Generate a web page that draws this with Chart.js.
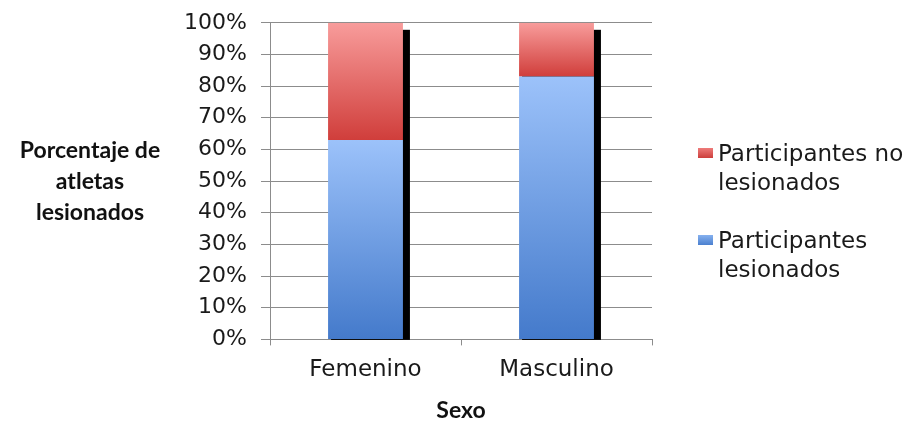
<!DOCTYPE html>
<html>
<head>
<meta charset="utf-8">
<script src="https://cdn.jsdelivr.net/npm/chart.js@4"></script>
<style>
  html, body { margin: 0; padding: 0; background: #ffffff; }
  #wrap { width: 911px; height: 422px; position: relative; }
</style>
</head>
<body>
<div id="wrap"><canvas id="c" width="911" height="422"></canvas></div>
<script>
// Categories and stacked percentages
const categories = ['Femenino', 'Masculino'];
const lesionados = [63, 83];
const noLesionados = [37, 17];
const seriesNames = ['Participantes lesionados', 'Participantes no lesionados'];
// Legend rows, top to bottom, each split over two lines
const legendLines = [['Participantes no', 'lesionados'], ['Participantes', 'lesionados']];
const yTitleLines = ['Porcentaje de', 'atletas', 'lesionados'];
const xTitle = 'Sexo';
const yTicks = [0, 10, 20, 30, 40, 50, 60, 70, 80, 90, 100];

// Vertical gradient across one stacked segment
function segmentGradient(ctx, top, bottom) {
  const chart = ctx.chart;
  if (!chart.chartArea) return top;
  const y = chart.scales.y;
  const i = ctx.dataIndex;
  let lo = 0;
  for (let d = 0; d < ctx.datasetIndex; d++) lo += chart.data.datasets[d].data[i];
  const hi = lo + chart.data.datasets[ctx.datasetIndex].data[i];
  const py0 = y.getPixelForValue(hi);
  const py1 = y.getPixelForValue(lo);
  const g = chart.ctx.createLinearGradient(0, py0, 0, py1);
  g.addColorStop(0, top);
  g.addColorStop(1, bottom);
  return g;
}

// Dark drop shadow on the right of each stacked column
const columnShadow = {
  id: 'columnShadow',
  beforeDatasetsDraw(chart) {
    const ctx = chart.ctx;
    const bottomMeta = chart.getDatasetMeta(0);
    const topMeta = chart.getDatasetMeta(chart.data.datasets.length - 1);
    ctx.save();
    ctx.fillStyle = '#000000';
    topMeta.data.forEach((el, i) => {
      const base = bottomMeta.data[i].base;
      const right = el.x + el.width / 2;
      const left = el.x - el.width / 2;
      ctx.fillRect(left + 3, el.y + 7, right - left + 4, base - el.y - 6);
    });
    ctx.restore();
  }
};

// Horizontal, multi-line title beside the value axis
const sideTitle = {
  id: 'sideTitle',
  afterDraw(chart) {
    const ctx = chart.ctx;
    const a = chart.chartArea;
    const cy = (a.top + a.bottom) / 2;
    ctx.save();
    ctx.font = 'bold 23px Lato';
    ctx.fillStyle = '#111111';
    ctx.textAlign = 'center';
    ctx.textBaseline = 'middle';
    const lh = 31;
    yTitleLines.forEach((t, k) => {
      ctx.fillText(t, 90, cy + (k - (yTitleLines.length - 1) / 2) * lh);
    });
    ctx.restore();
  }
};

// Legend on the right with two-line entries
const legendColors = [['#ee7b7a', '#cc3f3c'], ['#86b1ef', '#4b80cf']];
const sideLegend = {
  id: 'sideLegend',
  afterDraw(chart) {
    const ctx = chart.ctx;
    const x0 = chart.chartArea.right + 46;
    const cy = chart.height / 2;
    const lineH = 29;
    const itemH = 87;
    ctx.save();
    ctx.font = '23px "DejaVu Sans"';
    ctx.fillStyle = '#1a1a1a';
    ctx.textAlign = 'left';
    ctx.textBaseline = 'alphabetic';
    legendLines.forEach((lines, k) => {
      const base = cy - 50 + k * itemH;
      const g = ctx.createLinearGradient(0, base - 13, 0, base - 3);
      g.addColorStop(0, legendColors[k][0]);
      g.addColorStop(1, legendColors[k][1]);
      ctx.fillStyle = g;
      ctx.fillRect(x0, base - 13, 15, 10);
      ctx.fillStyle = '#1a1a1a';
      lines.forEach((t, j) => ctx.fillText(t, x0 + 20, base + j * lineH));
    });
    ctx.restore();
  }
};

new Chart(document.getElementById('c'), {
  type: 'bar',
  data: {
    labels: categories,
    datasets: [
      {
        label: seriesNames[0],
        data: lesionados,
        backgroundColor: (c) => segmentGradient(c, '#9cc2fa', '#447acb'),
        barPercentage: 0.8,
        categoryPercentage: 0.49
      },
      {
        label: seriesNames[1],
        data: noLesionados,
        backgroundColor: (c) => segmentGradient(c, '#f89c9b', '#d03e3b'),
        barPercentage: 0.8,
        categoryPercentage: 0.49
      }
    ]
  },
  options: {
    responsive: false,
    animation: false,
    devicePixelRatio: 1,
    layout: { padding: { left: 170, top: 20, right: 259, bottom: 0 } },
    plugins: {
      tooltip: { enabled: false },
      legend: { display: false }
    },
    scales: {
      x: {
        stacked: true,
        grid: { drawOnChartArea: false, drawTicks: true, tickLength: 6, color: '#8c8c8c' },
        border: { color: '#8c8c8c' },
        ticks: {
          color: '#1a1a1a',
          padding: 11,
          font: { family: 'DejaVu Sans', size: 23 }
        },
        title: {
          display: true,
          text: xTitle,
          color: '#111111',
          font: { family: 'Lato', size: 23, weight: 'bold', lineHeight: 1 },
          padding: { top: 4, bottom: 0 }
        }
      },
      y: {
        stacked: true,
        min: 0,
        max: 100,
        afterBuildTicks(scale) {
          scale.ticks = yTicks.map(v => ({ value: v }));
        },
        afterFit(scale) { scale.width = 100; },
        grid: { color: '#8c8c8c', tickLength: 9 },
        border: { color: '#8c8c8c' },
        ticks: {
          autoSkip: false,
          color: '#1a1a1a',
          padding: 14,
          font: { family: 'DejaVu Sans', size: 22, lineHeight: 0.8 },
          callback: (v) => v + '%'
        }
      }
    }
  },
  plugins: [columnShadow, sideTitle, sideLegend]
});
</script>
</body>
</html>
